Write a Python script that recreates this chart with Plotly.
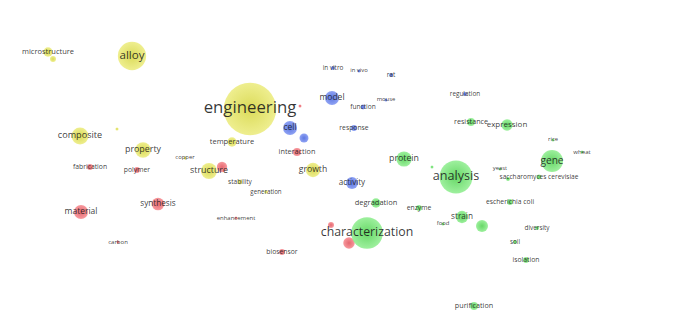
import plotly.graph_objects as go
import math

# ---- data (VOSviewer-style keyword map) ----
labels = [
    # cluster: yellow
    "microstructure", "", "alloy", "engineering", "composite", "", "property",
    "temperature", "structure", "growth", "stability", "generation", "copper",
    # cluster: red
    "fabrication", "polymer", "", "synthesis", "material", "carbon",
    "enhancement", "biosensor", "interaction", "", "", "",
    # cluster: blue
    "in vitro", "in vivo", "rat", "model", "function", "mouse", "cell", "",
    "response", "activity", "regulation",
    # cluster: green
    "protein", "", "analysis", "resistance", "expression", "gene", "rice",
    "wheat", "yeast", "saccharomyces cerevisiae", "", "degradation", "enzyme",
    "food", "strain", "", "escherichia coli", "diversity", "soil", "isolation",
    "purification", "characterization",
]
cluster = (
    ["yellow"] * 13 + ["red"] * 12 + ["blue"] * 11 + ["green"] * 22
)
map_x = [
    48, 53, 132, 250, 80, 117, 143, 232, 209, 313, 240, 266, 185,
    90, 137, 222, 158, 81, 118, 236, 282, 297, 300, 331, 349,
    333, 359, 391, 332, 363, 386, 290, 304, 354, 352, 465,
    404, 432, 456, 471, 507, 552, 553, 582, 500, 539, 508, 376, 419,
    443, 462, 482, 510, 537, 515, 526, 474, 367,
]
map_y = [
    52, 59, 56, 109, 136, 129, 150, 142, 171, 170, 182, 192, 158,
    167, 170, 167, 204, 212, 242, 218, 252, 152, 106, 225, 243,
    68, 71, 75, 98, 107, 100, 128, 138, 128, 183, 94,
    159, 167, 177, 122, 125, 161, 140, 152, 169, 177, 179, 203, 208,
    224, 217, 226, 202, 228, 242, 260, 306, 233,
]
# occurrences (bubble weight)
occurrences = [
    22, 9, 200, 690, 72, 2.5, 62, 22, 64, 52, 6, 3, 1,
    9, 9, 27, 40, 50, 1.5, 1.2, 9, 17, 2, 9, 33,
    4, 1, 4, 49, 6, 1, 49, 20, 9, 36, 4,
    58, 2.2, 272, 16, 33, 121, 1, 2.2, 1, 6, 4, 22, 9,
    1, 38, 36, 9, 4, 4, 9, 16, 250,
]

cluster_colors = {
    "yellow": ("rgb(236,236,128)", "rgb(214,214,66)"),
    "red": ("rgb(246,140,145)", "rgb(226,84,94)"),
    "blue": ("rgb(128,150,242)", "rgb(72,102,222)"),
    "green": ("rgb(145,238,145)", "rgb(82,210,82)"),
}

fig = go.Figure()

for cl in ["yellow", "red", "blue", "green"]:
    idx = [i for i, c in enumerate(cluster) if c == cl]
    inner, outer = cluster_colors[cl]
    fig.add_trace(go.Scatter(
        x=[map_x[i] for i in idx],
        y=[map_y[i] for i in idx],
        mode="markers",
        marker=dict(
            size=[occurrences[i] for i in idx],
            sizemode="area",
            sizeref=0.5,
            sizemin=1.5,
            color=inner,
            opacity=0.88,
            gradient=dict(type="radial", color=outer),
            line=dict(width=0),
        ),
        hoverinfo="skip",
        showlegend=False,
    ))

# labels on top
font_sizes = [round(5.5 + 0.43 * math.sqrt(w), 1) for w in occurrences]
fig.add_trace(go.Scatter(
    x=map_x,
    y=map_y,
    mode="text",
    text=labels,
    textposition="middle center",
    textfont=dict(size=font_sizes, color="rgba(25,25,25,0.88)",
                  family="Open Sans, Noto Sans, sans-serif"),
    hoverinfo="skip",
    showlegend=False,
))

fig.update_layout(
    width=700, height=328,
    margin=dict(l=0, r=0, t=0, b=0),
    paper_bgcolor="white",
    plot_bgcolor="white",
    xaxis=dict(range=[0, 700], visible=False, fixedrange=True),
    yaxis=dict(range=[328, 0], visible=False, fixedrange=True),
)

fig.write_html("out.html")
